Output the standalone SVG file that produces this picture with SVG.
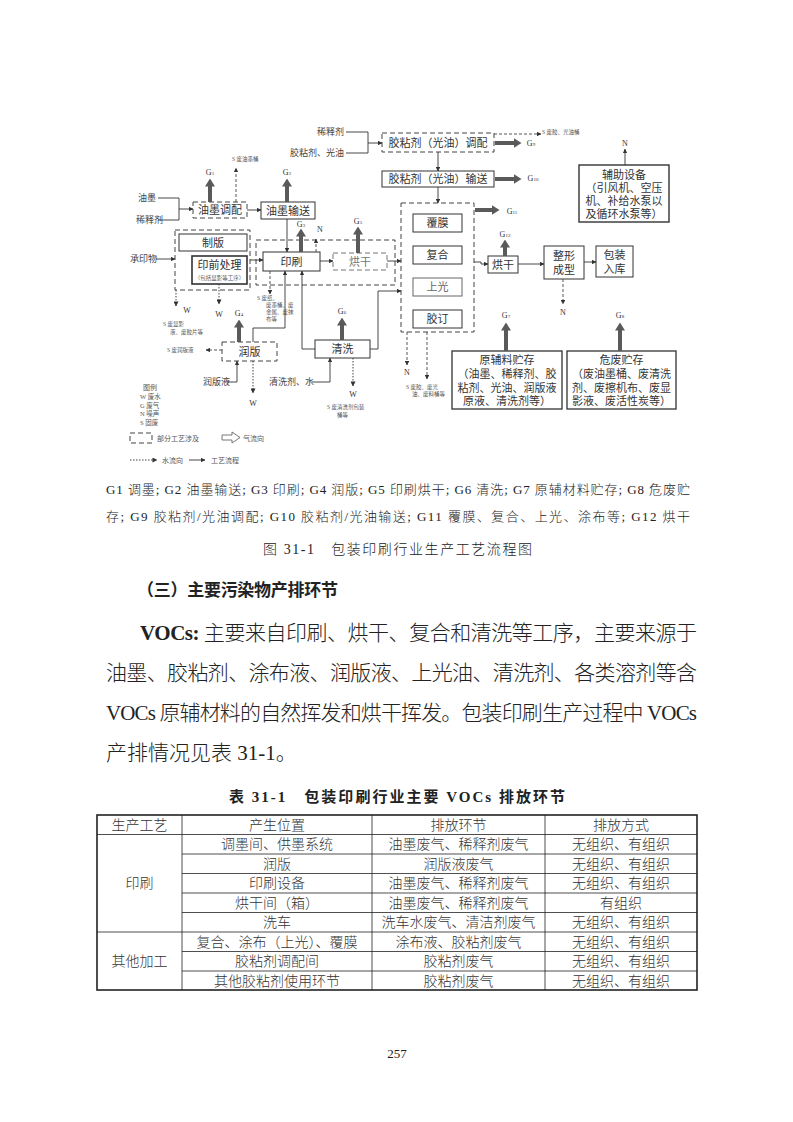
<svg xmlns="http://www.w3.org/2000/svg" width="793" height="1122" viewBox="0 0 793 1122">
<defs>
<style>
.t{font-family:"Liberation Serif","Noto Sans CJK SC",serif;fill:#222}
.lt{font-weight:300}
.bt{font-family:"Liberation Serif","Noto Sans CJK SC",serif;fill:#333;font-size:11px;text-anchor:middle}
.sm{font-family:"Liberation Serif","Noto Sans CJK SC",serif;fill:#444;font-size:9px}
.xs{font-family:"Liberation Serif","Noto Sans CJK SC",serif;fill:#555;font-size:5.5px}
.g{font-family:"Liberation Serif","Noto Sans CJK SC",serif;fill:#333;font-size:8px;text-anchor:middle}
.sub{font-size:5px}
.box{fill:#fff;stroke:#333;stroke-width:1}
.dbox{fill:none;stroke:#444;stroke-width:1;stroke-dasharray:5 3}
.ln{fill:none;stroke:#333;stroke-width:0.9;marker-end:url(#a)}
.pl{fill:none;stroke:#333;stroke-width:0.9}
.dl{fill:none;stroke:#444;stroke-width:0.9;stroke-dasharray:3 2;marker-end:url(#a)}
.wl{fill:none;stroke:#444;stroke-width:1;stroke-dasharray:1.5 1.5;marker-end:url(#a)}
.th{fill:none;stroke:#5a5a5a;stroke-width:4;marker-end:url(#th)}
.tb{fill:none;stroke:#222;stroke-width:0.8}
.tbo{fill:none;stroke:#222;stroke-width:1.6}
.tc{font-family:"Liberation Serif","Noto Sans CJK SC",serif;fill:#333;font-size:14px;text-anchor:middle;font-weight:300}
</style>
<marker id="a" viewBox="0 0 6 6" refX="5.5" refY="3" markerWidth="5" markerHeight="5" orient="auto"><path d="M0,0 L6,3 L0,6z" fill="#333"/></marker>
<marker id="th" viewBox="0 0 8 10" refX="0.5" refY="5" markerWidth="8" markerHeight="10" markerUnits="userSpaceOnUse" orient="auto"><path d="M0,0 L8,5 L0,10z" fill="#5a5a5a"/></marker>
</defs>
<rect width="793" height="1122" fill="#fff"/>

<!-- nodes -->
<g id="in-xishiji2"><text class="sm" x="344" y="135" text-anchor="end">稀释剂</text></g>
<g id="in-jiao"><text class="sm" x="344" y="156" text-anchor="end">胶粘剂、光油</text></g>
<g id="n-jiaotiaopei"><rect class="dbox" x="382" y="133" width="112" height="19"/><text class="bt" x="438" y="147">胶粘剂（光油）调配</text></g>
<g id="n-jiaoshusong"><rect class="box" x="382" y="171" width="112" height="16"/><text class="bt" x="438" y="183">胶粘剂（光油）输送</text></g>
<g id="s-jiao"><text class="xs" x="542" y="134">S 废胶、光油桶</text></g>
<g id="g9"><text class="g" x="531" y="146">G<tspan class="sub">9</tspan></text></g>
<g id="g10"><text class="g" x="533" y="181">G<tspan class="sub">10</tspan></text></g>
<g id="n-big"><rect class="dbox" x="401" y="203" width="73" height="129"/></g>
<g id="n-fumo"><rect class="box" x="413" y="214" width="49" height="18"/><text class="bt" x="437.5" y="227">覆膜</text></g>
<g id="n-fuhe"><rect class="box" x="413" y="246" width="49" height="18"/><text class="bt" x="437.5" y="259">复合</text></g>
<g id="n-shangguang"><rect class="box" x="413" y="278" width="49" height="18" style="stroke:#666"/><text class="bt" x="437.5" y="291" style="fill:#666">上光</text></g>
<g id="n-jiaoding"><rect class="box" x="413" y="310" width="49" height="18"/><text class="bt" x="437.5" y="323">胶订</text></g>
<g id="g11"><text class="g" x="512" y="214">G<tspan class="sub">11</tspan></text></g>
<g id="n-honggan2"><rect class="box" x="488" y="256" width="30" height="17"/><text class="bt" x="503" y="268.5">烘干</text></g>
<g id="g12"><text class="g" x="505" y="237">G<tspan class="sub">12</tspan></text></g>
<g id="n-zhengxing"><rect class="box" x="544" y="246" width="40" height="33"/><text class="bt" x="564" y="260">整形</text><text class="bt" x="564" y="274">成型</text></g>
<g id="n-baozhuang"><rect class="box" x="596" y="246" width="37" height="31"/><text class="bt" x="614.5" y="259">包装</text><text class="bt" x="614.5" y="273">入库</text></g>
<g id="n-n1"><text class="g" x="563" y="315">N</text></g>
<g id="n-fuzhu"><rect class="box" x="579" y="165" width="90" height="57" style="stroke-width:1.4"/><text class="bt" x="624" y="179">辅助设备</text><text class="bt" x="624" y="192">（引风机、空压</text><text class="bt" x="624" y="205">机、补给水泵以</text><text class="bt" x="624" y="218">及循环水泵等）</text></g>
<g id="n-n2"><text class="g" x="625" y="146">N</text></g>
<g id="n-yuanfuliao"><rect class="box" x="452" y="351" width="110" height="58" style="stroke-width:1.3"/><text class="bt" x="507" y="364">原辅料贮存</text><text class="bt" x="507" y="378">（油墨、稀释剂、胶</text><text class="bt" x="507" y="392">粘剂、光油、润版液</text><text class="bt" x="507" y="405">原液、清洗剂等）</text></g>
<g id="n-weifei"><rect class="box" x="567" y="351" width="109" height="58" style="stroke-width:1.3"/><text class="bt" x="621.5" y="364">危废贮存</text><text class="bt" x="621.5" y="378">（废油墨桶、废清洗</text><text class="bt" x="621.5" y="392">剂、废擦机布、废显</text><text class="bt" x="621.5" y="405">影液、废活性炭等）</text></g>
<g id="g7"><text class="g" x="506" y="318">G<tspan class="sub">7</tspan></text></g>
<g id="g8"><text class="g" x="620" y="318">G<tspan class="sub">8</tspan></text></g>
<g id="n-n3"><text class="g" x="407" y="375">N</text></g>
<g id="s-big"><text class="xs" x="406" y="389">S 废胶、废光</text><text class="xs" x="412" y="396">油、废料桶等</text></g>

<g id="in-youmo"><text class="sm" x="138" y="201">油墨</text></g>
<g id="in-xishiji"><text class="sm" x="136" y="223">稀释剂</text></g>
<g id="n-youmotiaopei"><rect class="dbox" x="193" y="202" width="54" height="16"/><text class="bt" x="220" y="214">油墨调配</text></g>
<g id="n-youmoshusong"><rect class="box" x="261" y="202" width="54" height="17"/><text class="bt" x="288" y="214.5">油墨输送</text></g>
<g id="g1"><text class="g" x="210" y="175">G<tspan class="sub">1</tspan></text></g>
<g id="g2"><text class="g" x="287" y="175">G<tspan class="sub">2</tspan></text></g>
<g id="s-youmo"><text class="xs" x="232" y="161">S 废油墨桶</text></g>
<g id="n-yinshuabox"><rect class="dbox" x="256" y="240" width="139" height="45"/></g>
<g id="n-yinshua"><rect class="box" x="263" y="252" width="57" height="19"/><text class="bt" x="291.5" y="265.5">印刷</text></g>
<g id="n-honggan1"><rect class="dbox" x="333" y="253" width="54" height="17" style="stroke:#777"/><text class="bt" x="360" y="265.5" style="fill:#777">烘干</text></g>
<g id="g3"><text class="g" x="301" y="227">G<tspan class="sub">3</tspan></text></g>
<g id="n-n4"><text class="g" x="320" y="232">N</text></g>
<g id="g5"><text class="g" x="358" y="224">G<tspan class="sub">5</tspan></text></g>
<g id="n-zhibanbox"><rect class="dbox" x="175" y="230" width="75" height="60"/></g>
<g id="n-zhiban"><rect class="box" x="179" y="234" width="68" height="17"/><text class="bt" x="213" y="246.5">制版</text></g>
<g id="n-yinqian"><rect class="box" x="192" y="256" width="55" height="28" style="stroke-width:1.6"/><text class="bt" x="219.5" y="269">印前处理</text><text class="xs" x="219.5" y="280" text-anchor="middle">（包括显影等工序）</text></g>
<g id="in-chengyinwu"><text class="sm" x="130" y="262">承印物</text></g>
<g id="w1"><text class="g" x="187" y="313">W</text></g>
<g id="w2"><text class="g" x="219" y="317">W</text></g>
<g id="s-zhiban"><text class="xs" x="163" y="326">S 废显影</text><text class="xs" x="170" y="334">液、废胶片等</text></g>
<g id="s-yinshua"><text class="xs" x="257" y="300">S 废纸、</text><text class="xs" x="266" y="307">废墨桶、废</text><text class="xs" x="266" y="314">金属、废抹</text><text class="xs" x="266" y="321">布等</text></g>
<g id="n-runban"><rect class="dbox" x="222" y="342" width="55" height="19"/><text class="bt" x="249.5" y="355.5">润版</text></g>
<g id="n-qingxi"><rect class="box" x="315" y="340" width="55" height="18"/><text class="bt" x="342.5" y="353">清洗</text></g>
<g id="g4"><text class="g" x="239" y="316">G<tspan class="sub">4</tspan></text></g>
<g id="g6"><text class="g" x="342" y="314">G<tspan class="sub">6</tspan></text></g>
<g id="s-runban"><text class="xs" x="167" y="352">S 废润版液</text></g>
<g id="in-runbanye"><text class="sm" x="203" y="385">润版液</text></g>
<g id="w3"><text class="g" x="253" y="406">W</text></g>
<g id="in-qingxiji"><text class="sm" x="269" y="385">清洗剂、水</text></g>
<g id="w4"><text class="g" x="353" y="397">W</text></g>
<g id="s-qingxi"><text class="xs" x="327" y="409">S 废清洗剂包装</text><text class="xs" x="337" y="417">桶等</text></g>

<g id="legend">
<text class="t" x="143" y="390" style="font-size:7px;fill:#555">图例</text>
<text class="t" x="140" y="399" style="font-size:6.5px;fill:#555">W  废水</text>
<text class="t" x="140" y="407.5" style="font-size:6.5px;fill:#555">G  废气</text>
<text class="t" x="140" y="416" style="font-size:6.5px;fill:#555">N  噪声</text>
<text class="t" x="140" y="424.5" style="font-size:6.5px;fill:#555">S  固废</text>
<rect class="dbox" x="130" y="433" width="22" height="10"/>
<text class="t" x="157" y="441" style="font-size:7px;fill:#555">部分工艺涉及</text>
<path d="M222,435 H232 V432 L240,437.5 L232,443 V440 H222 Z" fill="none" stroke="#555" stroke-width="0.8"/>
<text class="t" x="243" y="441" style="font-size:7px;fill:#555">气流向</text>
<path class="wl" d="M130,460 H157"/>
<text class="t" x="162" y="463" style="font-size:7px;fill:#555">水流向</text>
<path class="ln" d="M189,460 H205"/>
<text class="t" x="211" y="463" style="font-size:7px;fill:#555">工艺流程</text>
</g>

<!-- connectors -->
<g id="connectors">
<path class="pl" d="M346,132 H368 V153 H346"/>
<path class="ln" d="M368,143 H382"/>
<path class="ln" d="M438,152 V171"/>
<path class="ln" d="M438,187 V203"/>
<path class="dl" d="M494,134 H541"/>
<path class="th" d="M495,143 H514"/>
<path class="th" d="M495,179 H514"/>
<path class="th" d="M475,210 H492"/>
<path class="pl" d="M474,262 H481 V264"/>
<path class="ln" d="M481,264 H488"/>
<path class="th" d="M505,256 V247"/>
<path class="ln" d="M518,264 H544"/>
<path class="ln" d="M584,262 H596"/>
<path class="dl" d="M563,279 V304"/>
<path class="ln" d="M625,165 V149"/>
<path class="th" d="M506,351 V330"/>
<path class="th" d="M620,351 V330"/>
<path class="dl" d="M407,332 V365"/>
<path class="dl" d="M427,332 V379"/>

<path class="pl" d="M158,198 H179 V220 H158"/>
<path class="ln" d="M179,209 H193"/>
<path class="ln" d="M247,210 H261"/>
<path class="th" d="M210,202 V186"/>
<path class="th" d="M287,202 V186"/>
<path class="dl" d="M236,202 V168"/>
<path class="ln" d="M287,219 V252"/>
<path class="th" d="M301,252 V236"/>
<path class="dl" d="M316,252 V239"/>
<path class="th" d="M358,253 V234"/>
<path class="ln" d="M320,261 H333"/>
<path class="ln" d="M387,261 H401"/>
<path class="ln" d="M156,259 H175"/>
<path class="ln" d="M250,260 H263"/>
<path class="wl" d="M176,290 V306"/>
<path class="wl" d="M219,284 V304"/>
<path class="dl" d="M270,271 V294"/>
<path class="ln" d="M253,342 V328 H285 V271"/>
<path class="ln" d="M315,349 H302 V271"/>
<path class="ln" d="M370,349 H378 V291 H401"/>
<path class="th" d="M239,342 V327"/>
<path class="th" d="M342,340 V325"/>
<path class="dl" d="M222,350 H206"/>
<path class="ln" d="M227,382 H237 V361"/>
<path class="wl" d="M253,361 V393"/>
<path class="ln" d="M312,382 H330 V358"/>
<path class="wl" d="M353,358 V386"/>
</g>

<!-- captions and body -->
<g id="captions">
<text class="t lt" x="106" y="494" style="font-size:13px" textLength="584" lengthAdjust="spacing">G1 调墨; G2 油墨输送; G3 印刷; G4 润版; G5 印刷烘干; G6 清洗; G7 原辅材料贮存; G8 危废贮</text>
<text class="t lt" x="106" y="521" style="font-size:13px" textLength="584" lengthAdjust="spacing">存; G9 胶粘剂/光油调配; G10 胶粘剂/光油输送; G11 覆膜、复合、上光、涂布等; G12 烘干</text>
<text class="t lt" x="263" y="554" style="font-size:14px" textLength="269" lengthAdjust="spacing">图 31-1　包装印刷行业生产工艺流程图</text>
<text class="t" x="137" y="596" style="font-size:17px;font-weight:bold" textLength="201" lengthAdjust="spacing">（三）主要污染物产排环节</text>
<text class="t lt" x="140" y="640" style="font-size:21px" textLength="557" lengthAdjust="spacing"><tspan font-weight="bold">VOCs:</tspan> 主要来自印刷、烘干、复合和清洗等工序，主要来源于</text>
<text class="t lt" x="106" y="680" style="font-size:21px" textLength="591" lengthAdjust="spacing">油墨、胶粘剂、涂布液、润版液、上光油、清洗剂、各类溶剂等含</text>
<text class="t lt" x="106" y="720" style="font-size:21px" textLength="591" lengthAdjust="spacing">VOCs 原辅材料的自然挥发和烘干挥发。包装印刷生产过程中 VOCs</text>
<text class="t lt" x="106" y="760" style="font-size:21px">产排情况见表 31-1。</text>
<text class="t" x="229" y="802" style="font-size:15px;font-weight:bold" textLength="336" lengthAdjust="spacing">表 31-1　包装印刷行业主要 VOCs 排放环节</text>
<text class="t" x="397" y="1058" style="font-size:13px" text-anchor="middle">257</text>
</g>

<!-- table -->
<g id="table">
<rect class="tbo" x="97" y="815" width="600" height="175"/>
<path class="tb" d="M182,815 V990 M372,815 V990 M545,815 V990"/>
<path class="tb" d="M97,834.5 H697 M97,932 H697 M182,854 H697 M182,873.5 H697 M182,893 H697 M182,912.5 H697 M182,951.5 H697 M182,971 H697"/>
<text class="tc" x="139.5" y="830">生产工艺</text>
<text class="tc" x="277" y="830">产生位置</text>
<text class="tc" x="458.5" y="830">排放环节</text>
<text class="tc" x="621" y="830">排放方式</text>
<text class="tc" x="139.5" y="888">印刷</text>
<text class="tc" x="139.5" y="966">其他加工</text>
<text class="tc" x="277" y="849">调墨间、供墨系统</text>
<text class="tc" x="458.5" y="849">油墨废气、稀释剂废气</text>
<text class="tc" x="621" y="849">无组织、有组织</text>
<text class="tc" x="277" y="868.5">润版</text>
<text class="tc" x="458.5" y="868.5">润版液废气</text>
<text class="tc" x="621" y="868.5">无组织、有组织</text>
<text class="tc" x="277" y="888">印刷设备</text>
<text class="tc" x="458.5" y="888">油墨废气、稀释剂废气</text>
<text class="tc" x="621" y="888">无组织、有组织</text>
<text class="tc" x="277" y="907.5">烘干间（箱）</text>
<text class="tc" x="458.5" y="907.5">油墨废气、稀释剂废气</text>
<text class="tc" x="621" y="907.5">有组织</text>
<text class="tc" x="277" y="927">洗车</text>
<text class="tc" x="458.5" y="927">洗车水废气、清洁剂废气</text>
<text class="tc" x="621" y="927">无组织、有组织</text>
<text class="tc" x="277" y="946.5">复合、涂布（上光）、覆膜</text>
<text class="tc" x="458.5" y="946.5">涂布液、胶粘剂废气</text>
<text class="tc" x="621" y="946.5">无组织、有组织</text>
<text class="tc" x="277" y="966">胶粘剂调配间</text>
<text class="tc" x="458.5" y="966">胶粘剂废气</text>
<text class="tc" x="621" y="966">无组织、有组织</text>
<text class="tc" x="277" y="985.5">其他胶粘剂使用环节</text>
<text class="tc" x="458.5" y="985.5">胶粘剂废气</text>
<text class="tc" x="621" y="985.5">无组织、有组织</text>
</g>
</svg>
